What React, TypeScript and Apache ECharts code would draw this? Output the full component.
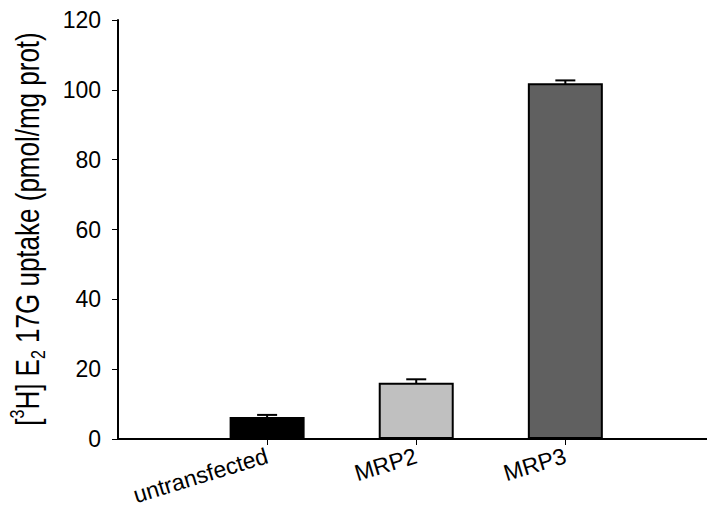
import React, { useEffect, useRef } from "react";
import * as echarts from "echarts";

const categories = ["untransfected", "MRP2", "MRP3"];
const positions = [1, 2, 3];
const values = [6.3, 16.1, 101.9];
const errors = [0.6, 1.0, 0.8];
const colors = ["#000000", "#c0c0c0", "#606060"];
const yTicks = [0, 20, 40, 60, 80, 100, 120];
const yTitle = "[{sup|3}H] E{sub|2} 17G uptake (pmol/mg prot)";

export default function App() {
  const ref = useRef<HTMLDivElement>(null);
  useEffect(() => {
    if (!ref.current) return;
    const chart = echarts.init(ref.current, null, { renderer: "svg" });
    const font = "Liberation Sans, Arial, sans-serif";
    chart.setOption({
      animation: false,
      textStyle: { fontFamily: font },
      grid: { left: 118, right: 0, top: 20, bottom: 69, containLabel: false },
      graphic: [
        {
          type: "text",
          x: 27,
          y: 229,
          rotation: Math.PI / 2,
          scaleY: 1.28,
          style: {
            text: yTitle,
            fontSize: 26,
            fontFamily: font,
            fill: "#000",
            align: "center",
            verticalAlign: "middle",
            rich: {
              sup: { fontSize: 16, fontFamily: font, fill: "#000", verticalAlign: "top", lineHeight: 32, padding: [0, 0, 12, 0] },
              sub: { fontSize: 16, fontFamily: font, fill: "#000", verticalAlign: "bottom", lineHeight: 32, padding: [14, 0, 0, 0] },
            },
          },
        },
      ],
      xAxis: {
        type: "value",
        min: 0,
        max: 3.95,
        axisLine: { show: true, lineStyle: { color: "#000", width: 2 } },
        splitLine: { show: false },
        axisTick: {
          show: true,
          length: 6,
          lineStyle: { color: "#000", width: 1 },
          customValues: positions,
        },
        axisLabel: {
          customValues: positions,
          rotate: 17,
          fontSize: 23,
          color: "#000",
          fontFamily: font,
          margin: 16,
          formatter: (v: number) => categories[Math.round(v) - 1] ?? "",
        },
      },
      yAxis: {
        type: "value",
        min: yTicks[0],
        max: yTicks[yTicks.length - 1],
        interval: 20,
        axisLine: { show: true, lineStyle: { color: "#000", width: 2 } },
        splitLine: { show: false },
        axisTick: { show: true, length: 6, lineStyle: { color: "#000", width: 1 } },
        axisLabel: { fontSize: 23, color: "#000", margin: 17, fontFamily: font },
      },
      series: [
        {
          type: "custom",
          z: 1,
          data: positions.map((p, i) => [p, values[i], errors[i]]),
          renderItem: (params: any, api: any) => {
            const x = api.value(0);
            const v = api.value(1);
            const e = api.value(2);
            const lo = api.coord([x, v - e]);
            const hi = api.coord([x, v + e]);
            const hw = 10;
            return {
              type: "group",
              children: [
                { type: "line", shape: { x1: lo[0], y1: lo[1], x2: hi[0], y2: hi[1] }, style: { stroke: "#000", lineWidth: 2 } },
                { type: "line", shape: { x1: hi[0] - hw, y1: hi[1], x2: hi[0] + hw, y2: hi[1] }, style: { stroke: "#000", lineWidth: 2 } },
              ],
            };
          },
        },
        {
          type: "bar",
          z: 2,
          barWidth: 75,
          data: positions.map((p, i) => ({
            value: [p, values[i]],
            itemStyle: { color: colors[i], borderColor: "#000", borderWidth: 2 },
          })),
        },
      ],
    });
    return () => chart.dispose();
  }, []);
  return <div ref={ref} style={{ width: 707, height: 508, position: "absolute", left: 0, top: 0, background: "#fff" }} />;
}
